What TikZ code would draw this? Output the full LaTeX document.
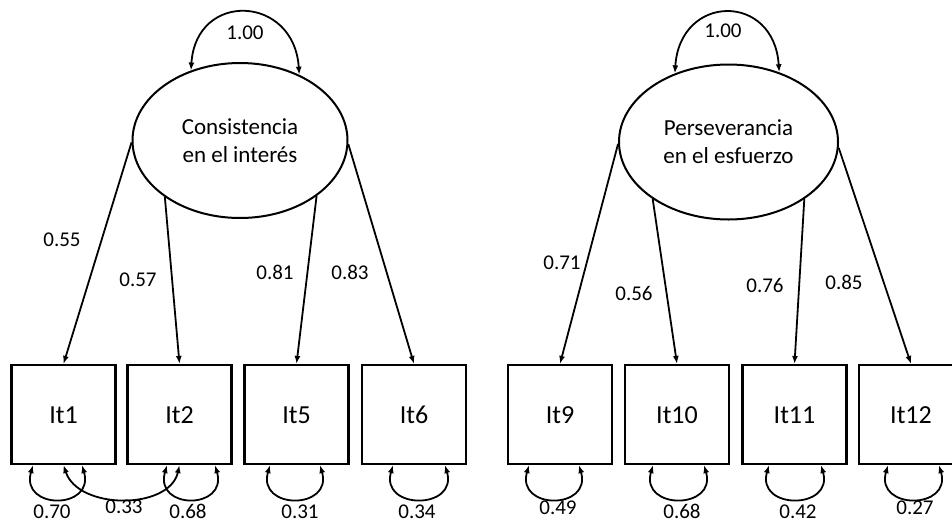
\documentclass[tikz,border=0pt]{standalone}
\usepackage{fontspec}
\setmainfont{Carlito}
\usetikzlibrary{arrows.meta,shapes.geometric}
\begin{document}
\begin{tikzpicture}[x=1pt,y=-1pt,
  latent/.style={ellipse,draw,line width=2pt,minimum width=215pt,minimum height=155pt,inner sep=0pt,align=center,font=\fontsize{23}{28}\selectfont},
  obs/.style={rectangle,draw,line width=2.2pt,minimum width=104pt,minimum height=99pt,inner sep=0pt,text height=17pt,text depth=0pt,font=\fontsize{26}{30}\selectfont},
  load/.style={line width=1.8pt,-{Latex[length=8pt,width=6pt]}},
  twoway/.style={line width=1.8pt,{Latex[length=8pt,width=6pt]}-{Latex[length=8pt,width=6pt]}},
  lab/.style={inner sep=0pt,font=\fontsize{21}{24}\selectfont}
]
\clip (0,0) rectangle (952,525);
\fill[white] (0,0) rectangle (952,525);

% latent variables
\node[latent] (L) at (240,140.5) {Consistencia\\en el interés};
\node[latent,minimum width=219pt] (R) at (728.5,142) {Perseverancia\\en el esfuerzo};

% observed variables
\node[obs] (It1) at (63.5,414.5) {It1};
\node[obs] (It2) at (179.5,414.5) {It2};
\node[obs] (It5) at (296.5,414.5) {It5};
\node[obs] (It6) at (414,414.5) {It6};
\node[obs] (It9) at (560,414.5) {It9};
\node[obs] (It10) at (677,414.5) {It10};
\node[obs] (It11) at (794.5,414.5) {It11};
\node[obs] (It12) at (911,414.5) {It12};

% variances of latents
\draw[twoway] (L.125) .. controls +(5,-80) and +(-5,-80) .. (L.48);
\draw[twoway] (R.128) .. controls +(5,-80) and +(-5,-80) .. (R.54);
\node[lab] at (245,33) {1.00};
\node[lab] at (723,31) {1.00};

% loadings
\draw[load] (L.181) -- (It1.north);
\draw[load] (L.217) -- (It2.north);
\draw[load] (L.324) -- (It5.north);
\draw[load] (L.358) -- (It6.north);
\draw[load] (R.181) -- (It9.north);
\draw[load] (R.217) -- (It10.north);
\draw[load] (R.323) -- (It11.north);
\draw[load] (R.357) -- (It12.north);

\node[lab] at (62,240) {0.55};
\node[lab] at (138,280) {0.57};
\node[lab] at (275,272) {0.81};
\node[lab] at (350,272) {0.83};
\node[lab] at (562,263) {0.71};
\node[lab] at (634,293) {0.56};
\node[lab] at (765,285) {0.76};
\node[lab] at (844,282) {0.85};

% error variances
\draw[twoway] ([xshift=-30.5pt]It1.south) .. controls +(-13,45) and +(13,45) .. ([xshift=18.5pt]It1.south);
\draw[twoway] ([xshift=-12.5pt]It2.south) .. controls +(-13,45) and +(13,45) .. ([xshift=35.5pt]It2.south);
\draw[twoway] ([xshift=-26.5pt]It5.south) .. controls +(-13,45) and +(13,45) .. ([xshift=23.5pt]It5.south);
\draw[twoway] ([xshift=-21pt]It6.south) .. controls +(-13,45) and +(13,45) .. ([xshift=31pt]It6.south);
\draw[twoway] ([xshift=-31pt]It9.south) .. controls +(-13,45) and +(13,45) .. ([xshift=19pt]It9.south);
\draw[twoway] ([xshift=-24pt]It10.south) .. controls +(-13,45) and +(13,45) .. ([xshift=27pt]It10.south);
\draw[twoway] ([xshift=-25.5pt]It11.south) .. controls +(-13,45) and +(13,45) .. ([xshift=26.5pt]It11.south);
\draw[twoway] ([xshift=-23pt]It12.south) .. controls +(-13,45) and +(13,45) .. ([xshift=28pt]It12.south);

% covariance It1 - It2
\draw[twoway] (It1.south) .. controls +(15,45) and +(-10,45) .. (It2.south);

\node[lab] at (52,512) {0.70};
\node[lab] at (124,507) {0.33};
\node[lab] at (188,511) {0.68};
\node[lab] at (300,512) {0.31};
\node[lab] at (417,512) {0.34};
\node[lab] at (558,508) {0.49};
\node[lab] at (682,511) {0.68};
\node[lab] at (798,512) {0.42};
\node[lab] at (915,508) {0.27};
\end{tikzpicture}
\end{document}
